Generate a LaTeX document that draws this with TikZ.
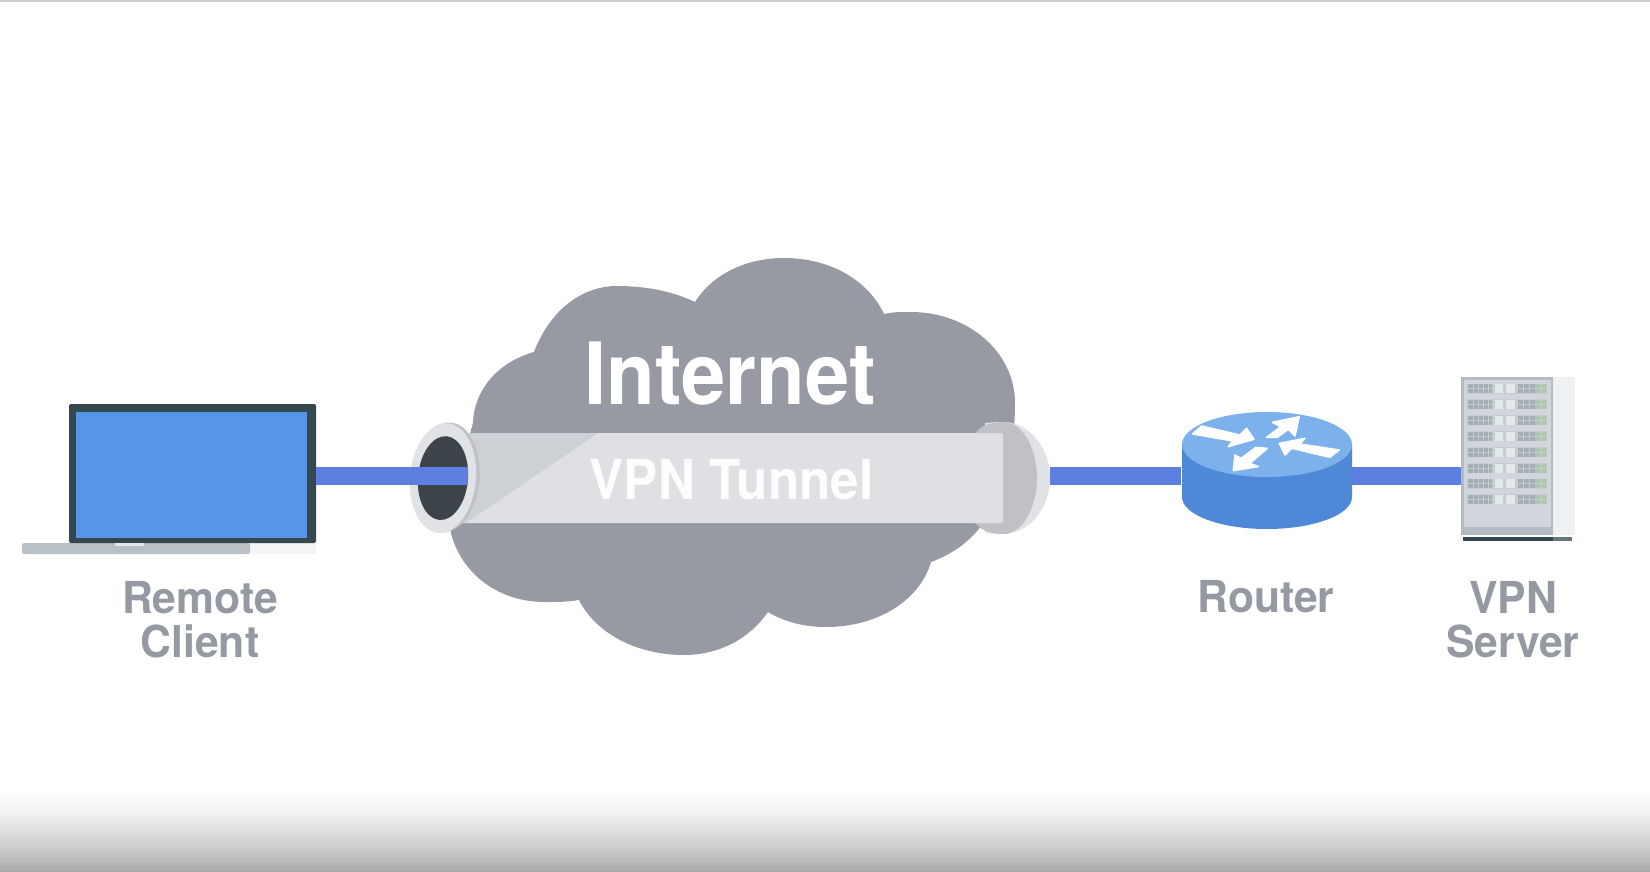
\documentclass[tikz,border=0pt]{standalone}
\usepackage{fontspec}
\usepackage{graphicx}
\setmainfont{TeX Gyre Heros}
\definecolor{cloudgrey}{HTML}{979AA2}
\definecolor{labelgrey}{HTML}{9599A1}
\definecolor{linkblue}{HTML}{5C7FE0}
\definecolor{screenblue}{HTML}{5596E6}
\definecolor{bezel}{HTML}{37474F}
\definecolor{tunnelbody}{HTML}{DEE0E4}
\definecolor{tunnelshade}{HTML}{CDD0D4}
\definecolor{rimlight}{HTML}{E0E2E5}
\definecolor{rimdark}{HTML}{BFC1C6}
\definecolor{holedark}{HTML}{3C4449}
\definecolor{routertop}{HTML}{7DB1EC}
\definecolor{routerside}{HTML}{4F88D6}
\definecolor{srvbody}{HTML}{D0D6DB}
\definecolor{srvedge}{HTML}{B4BCC1}
\definecolor{srvside}{HTML}{EEF0F2}
\definecolor{srvrow}{HTML}{C6CDD1}
\definecolor{srvgrid}{HTML}{A4ADB3}
\definecolor{srvlight}{HTML}{E4E8EA}
\definecolor{srvgreen}{HTML}{AFC6B2}
\definecolor{gA}{HTML}{A8A8A8}
\definecolor{gB}{HTML}{D0D0D0}
\definecolor{gC}{HTML}{F4F4F4}
\pgfdeclareverticalshading{bottomfade}{100bp}{color(0bp)=(gA); color(25bp)=(gA); color(41bp)=(gB); color(61.5bp)=(gC); color(75bp)=(white); color(100bp)=(white)}
\newcommand\lbl[1]{\scalebox{0.97}[1]{#1}}
\tikzset{
  labeltext/.style={text=labelgrey,align=center,inner sep=0pt,font=\bfseries\fontsize{44}{44}\selectfont},
  linkline/.style={draw=linkblue,line width=18pt},
  box/.style={draw=none,inner sep=0pt,outer sep=0pt,minimum width=#1},
  routerarrow/.style={fill=white,draw=white,line width=1.5pt,line join=round},
}
\begin{document}
\begin{tikzpicture}[x=1pt,y=-1pt]
\useasboundingbox (0,0) rectangle (1650,872);
\fill[white] (0,0) rectangle (1650,872);
\fill[gray!40] (0,0) rectangle (1650,2);
\shade[shading=bottomfade] (0,787) rectangle (1650,872);

% cloud
\fill[cloudgrey] (534,352)
  .. controls (550,310) and (582,286) .. (617,286)
  .. controls (645,286) and (672,291) .. (695,302)
  .. controls (712,275) and (745,258) .. (784,258)
  .. controls (830,258) and (868,280) .. (884,314)
  .. controls (892,312) and (900,312) .. (911,312)
  .. controls (968,312) and (1015,352) .. (1015,403)
  .. controls (1015,460) and (1000,505) .. (978,530)
  .. controls (965,545) and (950,555) .. (931,562)
  .. controls (920,600) and (878,627) .. (826,627)
  .. controls (802,627) and (783,621) .. (768,612)
  .. controls (750,638) and (720,655) .. (684,655)
  .. controls (635,655) and (595,632) .. (579,600)
  .. controls (568,602) and (556,602) .. (545,602)
  .. controls (495,602) and (460,570) .. (451,533)
  .. controls (455,500) and (465,450) .. (473,423)
  .. controls (474,390) and (498,362) .. (534,352) -- cycle;
\node[text=white,inner sep=0pt,font=\bfseries\fontsize{86}{88}\selectfont,anchor=base] (internet) at (730,404) {\scalebox{0.925}[1]{Internet}};

% named anchors
\coordinate (tunnelin) at (468,476);
\coordinate (tunnelout) at (1050,476);

% laptop
\fill[srvside!70!white] (250,543) rectangle (316,554);
\fill[srvedge!80!srvbody,rounded corners=2pt] (22,543) rectangle (250,554);
\node[box=247pt,minimum height=139pt,fill=bezel,rounded corners=2pt] (laptop) at (192.5,473.5) {};
\node[box=231pt,minimum height=126pt,fill=screenblue] (screen) at (191,474.5) {};
\fill[srvlight] (115,543) rectangle (144,546);

% router and server anchors
\node[box=170pt,minimum height=117pt] (router) at (1266,470.5) {};
\node[box=92pt,minimum height=158pt] (server) at (1507,456) {};

% links outside the tunnel
\draw[linkline] (tunnelout) -- (router.west |- tunnelout);
\draw[linkline] (router.east |- tunnelout) -- (server.west |- tunnelout);

% far end of the tunnel
\fill[rimlight] (985,423) .. controls (995,422) and (1000,422) .. (1005,422)
  .. controls (1032,424) and (1050,450) .. (1050,478)
  .. controls (1050,506) and (1032,532) .. (1005,534)
  .. controls (1000,534) and (995,534) .. (985,533) -- cycle;
\fill[rimdark] (974,436) .. controls (978,426) and (990,422) .. (1005,422)
  .. controls (1024,424) and (1037,450) .. (1037,478)
  .. controls (1037,506) and (1024,532) .. (1005,534)
  .. controls (990,534) and (978,530) .. (974,520) -- cycle;

% tunnel
\node[box=543pt,minimum height=90pt,fill=tunnelbody,rounded corners=2pt] (tunnel) at (731.5,478) {};
\fill[tunnelshade] (460,433) -- (598,433) -- (466,523) -- (460,523) -- cycle;
\node[text=white!94!tunnelbody,inner sep=0pt,font=\bfseries\fontsize{55}{57}\selectfont,anchor=base] (vpn) at (731.5,499) {\scalebox{0.93}[1]{VPN Tunnel}};

% near end of the tunnel
\begin{scope}[rotate around={-5:(442,478)}]
\fill[rimdark] (446,477) ellipse [x radius=33.5pt,y radius=55pt];
\fill[rimlight] (443,478) ellipse [x radius=33pt,y radius=55pt];
\fill[holedark] (443,478) ellipse [x radius=25pt,y radius=42pt];
\end{scope}
\draw[linkline] (laptop.east |- tunnelin) -- (tunnelin);

% router body
\fill[routerside] (1182,444) -- (1182,497) arc[start angle=180,end angle=360,x radius=85pt,y radius=32pt] -- (1352,444) -- cycle;
\fill[routertop] (1267,444.5) ellipse [x radius=85pt,y radius=32.5pt];
\begin{scope}[shift={(1040,360)},x=0.3333pt,y=-0.3333pt]
\path[routerarrow] (458,222) -- (485,198) -- (600,225) -- (620,205) -- (642,238) -- (565,260) -- (578,243) -- cycle;
\path[routerarrow] (680,232) -- (722,200) -- (697,187) -- (778,170) -- (765,228) -- (745,208) -- (712,232) -- cycle;
\path[routerarrow] (718,250) -- (795,235) -- (780,252) -- (898,270) -- (870,292) -- (755,265) -- (735,285) -- cycle;
\path[routerarrow] (580,332) -- (585,285) -- (603,295) -- (648,262) -- (682,265) -- (630,310) -- (655,320) -- cycle;
\end{scope}

% server body
\fill[srvside] (1553,377) rectangle (1575,535);
\fill[bezel] (1463,537) rectangle (1553,541);
\fill[bezel!75!white] (1553,537) rectangle (1572,541);
\fill[srvedge] (1461,377) rectangle (1553,535);
\fill[srvbody] (1463.5,379.5) rectangle (1551,527);
\foreach \ry in {388.7,404.3,420.3,436.3,452,468,483.7,499.3}{
  \fill[srvrow] (1467,\ry-5) rectangle (1547,\ry+5);
  \fill[srvgrid] (1468,\ry-4.5) rectangle (1492,\ry+4.5);
  \fill[srvlight] (1495,\ry-4.5) rectangle (1503,\ry+4.5);
  \fill[srvlight] (1506,\ry-4.5) rectangle (1515,\ry+4.5);
  \fill[srvgrid] (1518,\ry-4.5) rectangle (1535,\ry+4.5);
  \fill[srvgreen] (1535,\ry-4.5) rectangle (1547,\ry+4.5);
  \foreach \gx in {1473,1478,1483,1488,1523,1529,1541}{
    \draw[srvrow,line width=1pt] (\gx,\ry-4.5) -- (\gx,\ry+4.5);
  }
  \draw[srvrow,line width=0.8pt] (1468,\ry) -- (1492,\ry);
  \draw[srvrow,line width=0.8pt] (1518,\ry) -- (1547,\ry);
}

% labels
\node[labeltext] (lblclient) at (200,620) {\lbl{Remote}\\\lbl{Client}};
\node[labeltext,anchor=base] (lblrouter) at (1266,612) {\lbl{Router}};
\node[labeltext] (lblserver) at (1513,620) {\lbl{VPN}\\\lbl{Server}};
\end{tikzpicture}
\end{document}
